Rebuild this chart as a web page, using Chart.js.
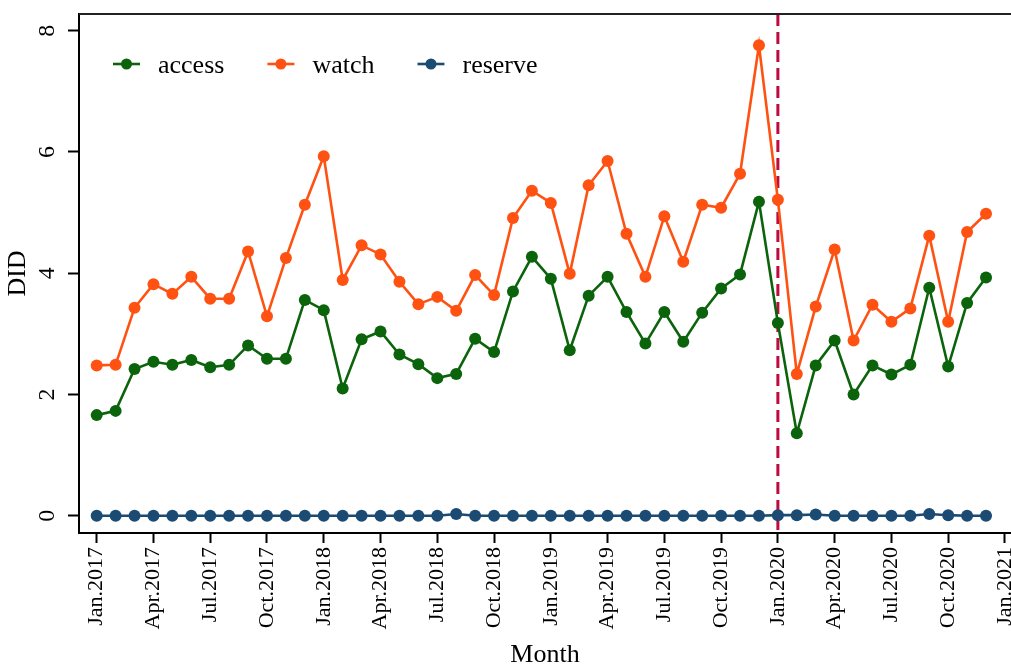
<!DOCTYPE html>
<html>
<head>
<meta charset="utf-8">
<script src="https://cdn.jsdelivr.net/npm/chart.js@4/dist/chart.umd.min.js"></script>
<style>
  html, body { margin: 0; padding: 0; background: #fff; overflow: hidden; }
  canvas { display: block; }
</style>
</head>
<body>
<canvas id="chart" width="1011" height="664"></canvas>
<script>
// Monthly observations, Jan.2017 – Dec.2020
const months = [
  'Jan.2017','Feb.2017','Mar.2017','Apr.2017','May.2017','Jun.2017','Jul.2017','Aug.2017','Sep.2017','Oct.2017','Nov.2017','Dec.2017',
  'Jan.2018','Feb.2018','Mar.2018','Apr.2018','May.2018','Jun.2018','Jul.2018','Aug.2018','Sep.2018','Oct.2018','Nov.2018','Dec.2018',
  'Jan.2019','Feb.2019','Mar.2019','Apr.2019','May.2019','Jun.2019','Jul.2019','Aug.2019','Sep.2019','Oct.2019','Nov.2019','Dec.2019',
  'Jan.2020','Feb.2020','Mar.2020','Apr.2020','May.2020','Jun.2020','Jul.2020','Aug.2020','Sep.2020','Oct.2020','Nov.2020','Dec.2020'
];

const access = [
  1.66, 1.73, 2.42, 2.54, 2.49, 2.57, 2.45, 2.49, 2.81, 2.59, 2.59, 3.56,
  3.39, 2.10, 2.91, 3.04, 2.66, 2.50, 2.27, 2.34, 2.92, 2.70, 3.70, 4.27,
  3.91, 2.73, 3.63, 3.94, 3.36, 2.84, 3.36, 2.87, 3.35, 3.75, 3.98, 5.18,
  3.18, 1.36, 2.48, 2.89, 2.00, 2.48, 2.33, 2.49, 3.76, 2.46, 3.51, 3.93
];

const watch = [
  2.48, 2.49, 3.43, 3.82, 3.66, 3.94, 3.58, 3.58, 4.36, 3.29, 4.25, 5.13,
  5.93, 3.89, 4.46, 4.31, 3.86, 3.49, 3.61, 3.38, 3.97, 3.64, 4.91, 5.36,
  5.16, 3.99, 5.45, 5.85, 4.65, 3.94, 4.94, 4.19, 5.13, 5.08, 5.64, 7.76,
  5.21, 2.34, 3.45, 4.39, 2.89, 3.48, 3.20, 3.42, 4.62, 3.20, 4.68, 4.98
];

const reserve = [
  0.00, 0.00, 0.00, 0.00, 0.00, 0.00, 0.00, 0.00, 0.00, 0.00, 0.00, 0.00,
  0.00, 0.00, 0.00, 0.00, 0.00, 0.00, 0.00, 0.03, 0.00, 0.00, 0.00, 0.00,
  0.00, 0.00, 0.00, 0.00, 0.00, 0.00, 0.00, 0.00, 0.00, 0.00, 0.00, 0.00,
  0.01, 0.01, 0.02, 0.00, 0.00, 0.00, 0.00, 0.00, 0.03, 0.01, 0.00, 0.00
];

// Axis ticks
const xTickMonths = [0, 3, 6, 9, 12, 15, 18, 21, 24, 27, 30, 33, 36, 39, 42, 45, 48];
const xTickLabels = [
  'Jan.2017','Apr.2017','Jul.2017','Oct.2017','Jan.2018','Apr.2018','Jul.2018','Oct.2018',
  'Jan.2019','Apr.2019','Jul.2019','Oct.2019','Jan.2020','Apr.2020','Jul.2020','Oct.2020','Jan.2021'
];
const yTicks = [0, 2, 4, 6, 8];

// Policy month marked by the dashed reference line (Jan.2020)
const policyMonth = months.indexOf('Jan.2020');

const SERIF = '"Liberation Serif", "Times New Roman", Times, serif';
const COLORS = { access: '#0b640b', watch: '#ff5212', reserve: '#1b4a73' };

const toPoints = arr => arr.map((v, i) => ({ x: i, y: v }));

const series = (label, values, color, order) => ({
  label,
  data: toPoints(values),
  borderColor: color,
  backgroundColor: color,
  pointBackgroundColor: color,
  pointBorderColor: color,
  pointBorderWidth: 0,
  pointRadius: 6,
  borderWidth: 2.6,
  tension: 0,
  order
});

// Reference line, frame top, rotated y labels and inline legend
const decorations = {
  id: 'decorations',
  beforeDatasetsDraw(chart) {
    const { ctx, chartArea, scales } = chart;
    const x = scales.x.getPixelForValue(policyMonth);
    ctx.save();
    ctx.strokeStyle = '#be0a3c';
    ctx.lineWidth = 3;
    ctx.setLineDash([12, 6]);
    ctx.beginPath();
    ctx.moveTo(x, chartArea.top);
    ctx.lineTo(x, chartArea.bottom);
    ctx.stroke();
    ctx.restore();
  },
  afterDraw(chart) {
    const { ctx, chartArea, scales } = chart;
    ctx.save();
    // top frame line
    ctx.strokeStyle = '#222';
    ctx.lineWidth = 2;
    ctx.beginPath();
    ctx.moveTo(chartArea.left, chartArea.top);
    ctx.lineTo(chartArea.right, chartArea.top);
    ctx.stroke();

    // y tick labels, rotated like the axis title
    ctx.fillStyle = '#000';
    ctx.font = '24px ' + SERIF;
    ctx.textAlign = 'center';
    ctx.textBaseline = 'middle';
    yTicks.forEach(v => {
      ctx.save();
      ctx.translate(48, scales.y.getPixelForValue(v));
      ctx.rotate(-Math.PI / 2);
      ctx.fillText(String(v), 0, 0);
      ctx.restore();
    });

    // legend inside the plot region
    ctx.font = '26px ' + SERIF;
    ctx.textAlign = 'left';
    ctx.textBaseline = 'alphabetic';
    let lx = chartArea.left + 34;
    const ly = 64;
    chart.data.datasets.forEach(ds => {
      ctx.strokeStyle = ds.borderColor;
      ctx.fillStyle = ds.borderColor;
      ctx.lineWidth = 2.6;
      ctx.beginPath();
      ctx.moveTo(lx, ly);
      ctx.lineTo(lx + 27, ly);
      ctx.stroke();
      ctx.beginPath();
      ctx.arc(lx + 13.5, ly, 5.5, 0, Math.PI * 2);
      ctx.fill();
      ctx.fillStyle = '#000';
      ctx.fillText(ds.label, lx + 45, ly + 9);
      lx += 45 + ctx.measureText(ds.label).width + 43;
    });
    ctx.restore();
  }
};

new Chart(document.getElementById('chart'), {
  type: 'line',
  data: {
    datasets: [
      series('access', access, COLORS.access, 3),
      series('watch', watch, COLORS.watch, 2),
      series('reserve', reserve, COLORS.reserve, 1)
    ]
  },
  options: {
    responsive: false,
    animation: false,
    devicePixelRatio: 1,
    layout: { padding: { top: 14, right: 0, bottom: 0, left: 0 }, autoPadding: false },
    plugins: {
      legend: { display: false },
      tooltip: { enabled: false }
    },
    scales: {
      x: {
        type: 'linear',
        min: -0.935,
        max: 48.32,
        afterBuildTicks: s => { s.ticks = xTickMonths.map(v => ({ value: v })); },
        // the plot runs to the right edge; the last label is allowed to be cut off
        afterFit: s => { s.height = 131; s.paddingLeft = 0; s.paddingRight = 0; },
        ticks: {
          autoSkip: false,
          minRotation: 90,
          maxRotation: 90,
          padding: 4,
          color: '#000',
          font: { family: SERIF, size: 22 },
          callback: (value, index) => xTickLabels[index]
        },
        grid: { drawOnChartArea: false, drawTicks: true, tickLength: 10, tickWidth: 2, tickColor: '#000' },
        border: { display: true, color: '#000', width: 2 },
        title: {
          display: true,
          text: 'Month',
          color: '#000',
          font: { family: SERIF, size: 26, lineHeight: 0.7 },
          padding: { top: 0, bottom: 0 }
        }
      },
      y: {
        min: -0.284,
        max: 8.275,
        afterBuildTicks: s => { s.ticks = yTicks.map(v => ({ value: v })); },
        afterFit: s => { s.width = 79; s.paddingTop = 0; s.paddingBottom = 0; },
        ticks: { display: false },
        grid: { drawOnChartArea: false, drawTicks: true, tickLength: 11, tickWidth: 2, tickColor: '#000' },
        border: { display: true, color: '#000', width: 2 },
        title: {
          display: true,
          text: 'DID',
          color: '#000',
          font: { family: SERIF, size: 26, lineHeight: 1 },
          padding: { top: 5, bottom: 0 }
        }
      }
    }
  },
  plugins: [decorations]
});
</script>
</body>
</html>
